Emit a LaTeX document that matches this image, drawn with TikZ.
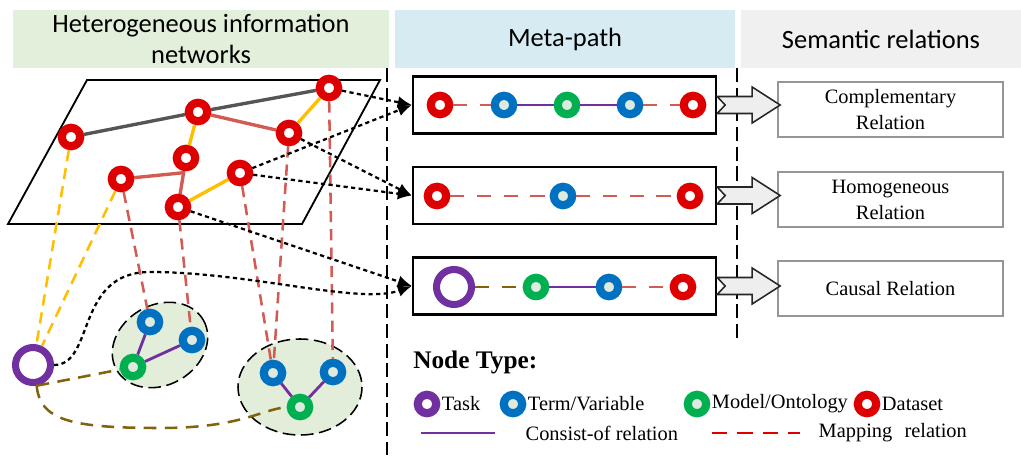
\documentclass[tikz,border=0pt]{standalone}
\usepackage{fontspec}
\setmainfont{Liberation Serif}
\newfontfamily\serfont{Liberation Serif}
\newfontfamily\headfont{Carlito}
\usepackage{xcolor}
\usepackage{tikz}
\usetikzlibrary{positioning}
\usetikzlibrary{arrows.meta}
\usetikzlibrary{calc}

\definecolor{dsred}{RGB}{222,0,0}
\definecolor{trmblue}{RGB}{0,112,192}
\definecolor{mdlgreen}{RGB}{0,176,80}
\definecolor{tskpurple}{RGB}{112,48,160}
\definecolor{mapred}{RGB}{210,92,84}
\definecolor{hinorange}{RGB}{255,190,0}
\definecolor{hingray}{RGB}{85,85,85}
\definecolor{brownline}{RGB}{130,98,10}
\definecolor{clusterfill}{RGB}{226,238,218}
\definecolor{corefill}{RGB}{222,234,222}
\definecolor{hdgreen}{RGB}{226,239,218}
\definecolor{hdblue}{RGB}{215,236,242}
\definecolor{hdgray}{RGB}{240,240,240}
\definecolor{relgray}{RGB}{150,150,150}
\definecolor{arrowfill}{RGB}{238,238,238}

\tikzset{flow/.style = {->,> = {Latex[length=10pt,width=8.5pt]},line width=1.6pt,dash pattern=on 3pt off 2.4pt}}

\begin{document}
\begin{tikzpicture}[x=0.025cm,y=-0.025cm,
    ring/.style={circle,draw,line width=5.8pt,minimum size=0.46cm,inner sep=0pt,fill=white},
    dataset/.style={ring,draw=dsred},
    term/.style={ring,draw=trmblue,fill=corefill},
    model/.style={ring,draw=mdlgreen,fill=corefill},
    task/.style={ring,draw=tskpurple,line width=5pt,minimum size=0.875cm},
    consist/.style={tskpurple,line width=2pt},
    mapping/.style={mapred,line width=1.8pt,dash pattern=on 8pt off 5pt},
    hinlink/.style={line width=2.4pt},
    taskmap/.style={hinorange,line width=1.8pt,dash pattern=on 8pt off 5pt},
    brownlink/.style={brownline,line width=1.8pt,dash pattern=on 9pt off 6pt},
    cluster/.style={fill=clusterfill,draw=black,line width=1.1pt,dash pattern=on 9pt off 4pt},
    header/.style={font=\headfont\fontsize{18.8}{21.5}\selectfont,align=center,inner sep=0pt},
    pathbox/.style={draw,line width=1.6pt,minimum width=7.575cm,minimum height=1.425cm,inner sep=0pt},
    relbox/.style={draw=relgray,line width=1.3pt,minimum width=5.625cm,minimum height=1.375cm,align=center,font=\serfont\fontsize{14.5}{18.5}\selectfont},
    blockarr/.style={draw=black!85,fill=arrowfill,line width=1.1pt,line join=miter},
    sepline/.style={line width=1pt,dash pattern=on 10pt off 4pt},
    legtext/.style={font=\serfont\fontsize{14.5}{18}\selectfont,inner sep=1pt}]

\useasboundingbox (0,0) rectangle (1021,455);

% column headers
\node[header,fill=hdgreen,minimum width=9.4cm,minimum height=1.45cm] (hdhin) at (201,39) {Heterogeneous information\\networks};
\node[header,fill=hdblue,minimum width=8.5cm,minimum height=1.45cm] (hdmeta) at (565,39) {Meta-path};
\node[header,fill=hdgray,minimum width=7cm,minimum height=1.45cm] (hdsem) at (881,39) {Semantic relations};

\coordinate (sepa) at (387,68);
\coordinate (sepb) at (387,455);
\coordinate (sepc) at (737,68);
\coordinate (sepd) at (737,342);
\draw[sepline] (sepa) -- (sepb);
\draw[sepline] (sepc) -- (sepd);

% network plane and clusters
\draw[line width=1.3pt] (87,80) -- (380,80) -- (302,224) -- (8,224) -- cycle;
\draw[cluster] (160,345) ellipse [x radius=50, y radius=40, rotate=30];
\draw[cluster] (300,387) ellipse [x radius=62, y radius=48];

\node[dataset] (d1) at (71,137) {};
\node[dataset] (d2) at (198,112) {};
\node[dataset] (d3) at (329,88) {};
\node[dataset] (d4) at (289,133) {};
\node[dataset] (d5) at (186,158) {};
\node[dataset] (d6) at (121,179) {};
\node[dataset] (d7) at (240,173) {};
\node[dataset] (d8) at (178,207) {};

\node[term] (t1) at (150,322) {};
\node[term] (t2) at (192,340) {};
\node[model] (m1) at (133,367) {};
\node[term] (t3) at (273,373) {};
\node[term] (t4) at (333,372) {};
\node[model] (m2) at (300,407) {};
\node[task] (k1) at (33,365) {};

\draw[hinlink,hingray] (d1) -- (d2) (d2) -- (d3);
\draw[hinlink,mapred] (d2) -- (d4) (d5) -- (d8);
\coordinate (jn) at ($(d5)!0.3!(d8)$);
\draw[hinlink,mapred] (d6) -- (jn);
\draw[hinlink,hinorange] (d3) -- (d4) (d2) -- (d5) (d7) -- (d8);

\draw[mapping] (d6) -- (t1) (d8) -- (t2) (d7) -- (t3) (d4) -- (t3) (d3) -- (t4);
\draw[taskmap] (d1) -- (k1) (d6) -- (k1);
\draw[consist] (m1) -- (t1) (m1) -- (t2) (m2) -- (t3) (m2) -- (t4);
\draw[brownlink] (k1.-80) -- (m1);
\draw[brownlink] (k1.-80) .. controls (40,420) and (70,428) .. (160,428) .. controls (240,428) and (260,410) .. (m2.west);

% meta-paths
\node[pathbox] (mp1) at (564.5,105) {};
\node[pathbox] (mp2) at (564.5,195.5) {};
\node[pathbox] (mp3) at (564.5,286) {};

\node[dataset] (p11) at (440,105) {};
\node[term] (p12) at (504,105) {};
\node[model] (p13) at (567,105) {};
\node[term] (p14) at (630,105) {};
\node[dataset] (p15) at (693,105) {};
\draw[mapping,line width=1.4pt,dash pattern=on 10pt off 9pt] (p11) -- (p12) (p14) -- (p15);
\draw[consist] (p12) -- (p13) (p13) -- (p14);

\node[dataset] (p21) at (437,196) {};
\node[term] (p22) at (563,196) {};
\node[dataset] (p23) at (690,196) {};
\draw[mapping,line width=1.4pt,dash pattern=on 10pt off 9pt] (p21) -- (p22) (p22) -- (p23);

\node[task] (p31) at (454,287) {};
\node[model] (p32) at (536,287) {};
\node[term] (p33) at (609,287) {};
\node[dataset] (p34) at (683,287) {};
\draw[brownlink,line width=1.4pt,dash pattern=on 10pt off 9pt] (p31) -- (p32);
\draw[consist] (p32) -- (p33);
\draw[mapping,line width=1.4pt,dash pattern=on 10pt off 9pt] (p33) -- (p34);

\draw[flow] (d3) -- (mp1.west);
\draw[flow] (d7) -- (mp1.west);
\draw[flow] (d7) -- (mp2.west);
\draw[flow] (d4) -- (mp2.west);
\draw[flow] (d8) -- (mp3.west);
\draw[flow] (k1.east) .. controls (95,365) and (75,272) .. (150,272) .. controls (250,272) and (360,305) .. (mp3.west);

% semantic relations
\node[relbox] (rs1) at (890.5,109.5) {Complementary\\Relation};
\node[relbox] (rs2) at (890.5,199.5) {Homogeneous\\Relation};
\node[relbox] (rs3) at (890.5,288.5) {Causal Relation};

\foreach \b in {1,2,3}
  \draw[blockarr] ($(mp\b.east)+(0,-8.5)$) -- ++(35,0) -- ++(0,-9.5) -- ++(28,18) -- ++(-28,18) -- ++(0,-9.5) -- ++(-35,0) -- ++(8,-8.5) -- cycle;

% legend
\node[font=\serfont\bfseries\fontsize{18}{20}\selectfont,anchor=west,inner sep=0pt] (ntype) at (413,362) {Node Type:};
\node[ring,draw=tskpurple] (lg1) at (427,404) {};
\node[legtext,right=0pt of lg1] (lgt1) {Task};
\node[term] (lg2) at (513,404) {};
\node[legtext,right=0pt of lg2] (lgt2) {Term/Variable};
\node[model] (lg3) at (697,404) {};
\node[legtext,right=0pt of lg3] (lgt3) {Model/Ontology};
\node[dataset] (lg4) at (867,404) {};
\node[legtext,right=0pt of lg4] (lgt4) {Dataset};

\coordinate (cs1) at (421,433);
\coordinate (cs2) at (495,433);
\draw[consist] (cs1) -- (cs2);
\node[legtext,anchor=west] (lgc) at (524,433) {Consist-of relation};
\coordinate (mr1) at (712,433);
\coordinate (mr2) at (800,433);
\draw[dsred,line width=1.8pt,dash pattern=on 11pt off 7pt] (mr1) -- (mr2);
\node[legtext,anchor=west] (lgm) at (817,433) {Mapping\hspace{0.6em}relation};
\end{tikzpicture}
\end{document}
